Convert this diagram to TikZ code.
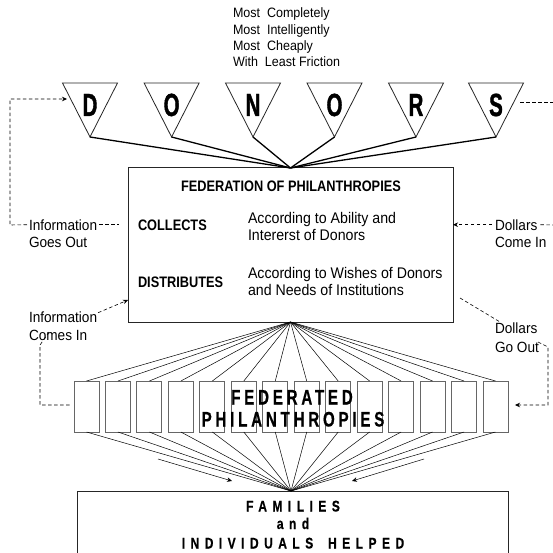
\documentclass[tikz,border=0pt]{standalone}
\usepackage{fontspec}
\setmainfont{Liberation Sans}[FakeStretch=0.92]
\newfontfamily\bcond{Liberation Sans}[FakeStretch=0.84]
\newfontfamily\donorf{Liberation Sans}[FakeStretch=0.64,FakeBold=1.2]
\newfontfamily\fedf{Liberation Sans}[FakeStretch=0.72,LetterSpace=18,FakeBold=0.6]
\newfontfamily\famf{Liberation Sans}[FakeStretch=0.78,LetterSpace=35,FakeBold=0.4]
\usetikzlibrary{arrows.meta,calc}
\tikzset{
  txt/.style={inner sep=0pt, outer sep=0pt, anchor=base west, font=\fontsize{14.8}{16.5}\selectfont},
  toptxt/.style={txt, font=\fontsize{13.6}{16.5}\selectfont},
  boxtxt/.style={txt, font=\fontsize{15.4}{16.5}\selectfont},
  btxt/.style={txt, font=\bcond\fontsize{15.2}{16.5}\selectfont\bfseries},
  donorletter/.style={inner sep=0pt, outer sep=0pt, anchor=base, font=\donorf\bfseries\fontsize{32}{32}\selectfont},
  fedletters/.style={inner sep=0pt, outer sep=0pt, anchor=base, font=\fedf\bfseries\fontsize{21}{21}\selectfont},
  famletters/.style={inner sep=0pt, outer sep=0pt, anchor=base, font=\famf\bfseries\fontsize{15.5}{15.5}\selectfont},
  tri/.style={draw=black!85, line width=0.8pt, line join=miter},
  heavy/.style={draw=black, line width=1.3pt},
  thin/.style={draw=black, line width=0.5pt},
  bigbox/.style={draw=black!85, line width=1pt, inner sep=0pt, outer sep=0pt, anchor=north west},
  sbox/.style={draw=black!60, line width=0.9pt, minimum width=25pt, minimum height=51pt, inner sep=0pt, outer sep=0pt},
  dsh/.style={draw=black, line width=0.6pt, dash pattern=on 3.5pt off 2.5pt},
  tip/.style={-{Stealth[length=5pt,width=4.5pt]}},
}
\begin{document}
\begin{tikzpicture}[x=1pt,y=-1pt]
\clip (0,0) rectangle (553,553);
\fill[white] (0,0) rectangle (553,553);

% top words
\node[toptxt] (t1) at (233,18) {Most\ \ Completely};
\node[toptxt] (t2) at (233,34.3) {Most\ \ Intelligently};
\node[toptxt] (t3) at (233,50.6) {Most\ \ Cheaply};
\node[toptxt] (t4) at (233,67) {With\ \ Least Friction};

% federation box
\node[bigbox, minimum width=325pt, minimum height=154pt] (fed) at (128,168) {};
\node[btxt, anchor=base] (fedtitle) at (291,192) {FEDERATION OF PHILANTHROPIES};
\node[btxt] (collects) at (138,230) {COLLECTS};
\node[boxtxt] (c1) at (248,223) {According to Ability and};
\node[boxtxt] (c2) at (248,240) {Intererst of Donors};
\node[btxt] (distributes) at (138,287) {DISTRIBUTES};
\node[boxtxt] (d1t) at (248,278) {According to Wishes of Donors};
\node[boxtxt] (d2t) at (248,295) {and Needs of Institutions};

% donors triangles
\foreach \c/\L/\n in {90/D/d1, 171.6/O/d2, 253/N/d3, 334.5/O/d4, 416/R/d5, 496/S/d6} {
  \draw[tri] (\c-27.5,83) -- (\c+27.5,83) -- (\c,137) -- cycle;
  \coordinate (\n) at (\c,137);
  \node[donorletter] (L\n) at (\c,116) {\L};
}
\foreach \n in {d1,d2,d3,d4,d5,d6} \draw[heavy] (\n) -- (fed.north);

% federated philanthropies boxes
\foreach \i in {0,...,13} {
  \node[sbox] (b\i) at (86.5+31.46*\i,406.5) {};
}
% families box
\node[bigbox, minimum width=431pt, minimum height=90pt] (fam) at (77,491) {};
\coordinate (famtop) at (291,491);
\foreach \i in {0,...,13} {
  \draw[thin] (fed.south) -- (b\i.north);
  \draw[thin] (b\i.south) -- (famtop);
}
\node[fedletters] (fedA) at (292,404.5) {FEDERATED};
\node[fedletters] (fedB) at (293,426.5) {PHILANTHROPIES};
\node[famletters] (famA) at (293,511.5) {FAMILIES};
\node[famletters] (famB) at (293,529) {and};
\node[famletters] (famC) at (293,548.5) {INDIVIDUALS\hspace{6pt} HELPED};

% bottom arrows
\coordinate (la1) at (158,459); \coordinate (la2) at (232,481);
\coordinate (ra1) at (424,459); \coordinate (ra2) at (352,481);
\draw[thin, tip] (la1) -- (la2);
\draw[thin, tip] (ra1) -- (ra2);

% left: information goes out
\node[txt] (infoout) at (29,230) {Information};
\node[txt] (goesout) at (29,247) {Goes Out};
\coordinate (lc1) at (10,225);
\coordinate (lc2) at (10,99);
\coordinate (dtip) at (67,99);
\draw[dsh, tip] ($(infoout.west)+(-2,0)$) -- (lc1) -- (lc2) -- (dtip);
\draw[dsh] ($(infoout.east)+(2,0)$) -- ++(20,0);

% right: dollars come in
\node[txt] (dolin) at (495,230) {Dollars};
\node[txt] (comein) at (495,247) {Come In};
\coordinate (rc1) at (553,225);
\coordinate (rc2) at (553,102);
\coordinate (stip) at (520,102);
\draw[dsh] ($(dolin.east)+(3,0)$) -- (rc1);
\draw[dsh] (stip) -- (rc2);
\draw[dsh, tip] ($(dolin.west)+(-3,0)$) -- (fed.east |- dolin.west);

% left: information comes in
\node[txt] (infoin) at (29,322) {Information};
\node[txt] (comesin) at (29,340) {Comes In};
\coordinate (fedin) at (128,300);
\draw[dsh, tip] ($(infoin.east)+(1,-4)$) -- (fedin);
\coordinate (li1) at (49,332);
\coordinate (li2) at (40,345);
\coordinate (li3) at (40,405);
\draw[dsh] (li1) -- (li2) -- (li3) -- ($(b0.west |- li3)+(-3,0)$);

% right: dollars go out
\node[txt] (dolout) at (495,333) {Dollars};
\node[txt] (goout) at (495,352) {Go Out};
\coordinate (fedout) at (460,298);
\coordinate (ro1) at (500,322);
\draw[dsh] (fedout) -- (ro1);
\coordinate (ro2) at (538,342);
\coordinate (ro3) at (548,347);
\coordinate (ro4) at (548,405);
\draw[dsh, tip] (ro2) -- (ro3) -- (ro4) -- ($(b13.east |- ro4)+(7,0)$);
\end{tikzpicture}
\end{document}
